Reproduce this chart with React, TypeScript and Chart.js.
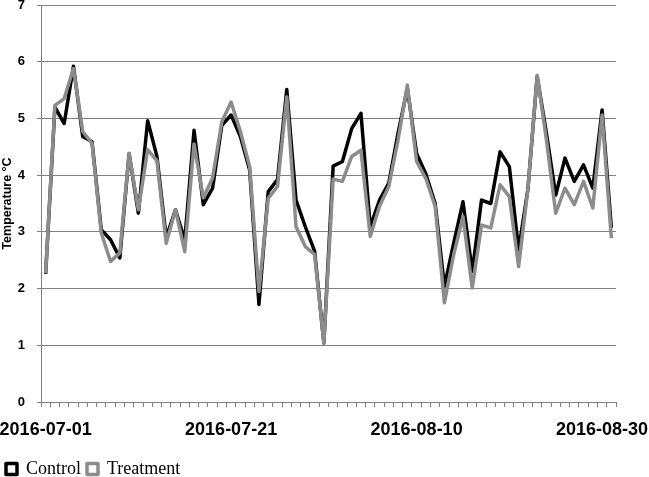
import React, { useEffect, useRef } from 'react';
import { Chart, registerables } from 'chart.js';

Chart.register(...registerables);

const dates: string[] = [
  '2016-07-01', '2016-07-02', '2016-07-03', '2016-07-04', '2016-07-05', '2016-07-06', '2016-07-07', '2016-07-08',
  '2016-07-09', '2016-07-10', '2016-07-11', '2016-07-12', '2016-07-13', '2016-07-14', '2016-07-15', '2016-07-16',
  '2016-07-17', '2016-07-18', '2016-07-19', '2016-07-20', '2016-07-21', '2016-07-22', '2016-07-23', '2016-07-24',
  '2016-07-25', '2016-07-26', '2016-07-27', '2016-07-28', '2016-07-29', '2016-07-30', '2016-07-31', '2016-08-01',
  '2016-08-02', '2016-08-03', '2016-08-04', '2016-08-05', '2016-08-06', '2016-08-07', '2016-08-08', '2016-08-09',
  '2016-08-10', '2016-08-11', '2016-08-12', '2016-08-13', '2016-08-14', '2016-08-15', '2016-08-16', '2016-08-17',
  '2016-08-18', '2016-08-19', '2016-08-20', '2016-08-21', '2016-08-22', '2016-08-23', '2016-08-24', '2016-08-25',
  '2016-08-26', '2016-08-27', '2016-08-28', '2016-08-29', '2016-08-30', '2016-08-31',
];

const shownTickLabels: string[] = ['2016-07-01', '2016-07-21', '2016-08-10', '2016-08-30'];

const control: number[] = [
  2.26, 5.2, 4.91, 5.92, 4.68, 4.59, 3.04, 2.86, 2.54, 4.38,
  3.33, 4.96, 4.33, 2.9, 3.39, 2.85, 4.79, 3.48, 3.77, 4.88,
  5.06, 4.68, 4.09, 1.72, 3.71, 3.92, 5.51, 3.56, 3.09, 2.66,
  1.04, 4.16, 4.24, 4.82, 5.09, 3.09, 3.56, 3.86, 4.74, 5.53,
  4.38, 4.02, 3.5, 2.04, 2.8, 3.53, 2.3, 3.56, 3.5, 4.41,
  4.15, 2.68, 3.75, 5.74, 4.74, 3.65, 4.3, 3.89, 4.18, 3.77,
  5.15, 3.07,
];

const treatment: number[] = [
  2.27, 5.23, 5.35, 5.88, 4.77, 4.56, 2.98, 2.48, 2.63, 4.38,
  3.39, 4.45, 4.25, 2.8, 3.39, 2.65, 4.55, 3.6, 3.95, 4.94,
  5.29, 4.77, 4.15, 1.95, 3.59, 3.8, 5.38, 3.09, 2.74, 2.6,
  1.04, 3.93, 3.89, 4.33, 4.44, 2.92, 3.45, 3.8, 4.62, 5.59,
  4.24, 3.94, 3.45, 1.75, 2.6, 3.27, 2.01, 3.12, 3.07, 3.83,
  3.62, 2.39, 3.75, 5.76, 4.62, 3.33, 3.77, 3.48, 3.89, 3.42,
  5.06, 2.89,
];

const yTicks: number[] = [0, 1, 2, 3, 4, 5, 6, 7];

export default function App() {
  const canvasRef = useRef<HTMLCanvasElement | null>(null);

  useEffect(() => {
    const canvas = canvasRef.current;
    if (!canvas) return;
    const chart = new Chart(canvas, {
      type: 'line',
      data: {
        labels: dates,
        datasets: [
          {
            label: 'Control',
            data: control,
            borderColor: '#000000',
            backgroundColor: '#ffffff',
            borderWidth: 3.5,
            pointRadius: 0,
            tension: 0,
            borderJoinStyle: 'round',
            order: 1,
          },
          {
            label: 'Treatment',
            data: treatment,
            borderColor: '#8c8c8c',
            backgroundColor: '#ffffff',
            borderWidth: 3.5,
            pointRadius: 0,
            tension: 0,
            borderJoinStyle: 'round',
            order: 0,
          },
        ],
      },
      options: {
        responsive: false,
        animation: false,
        layout: { padding: { left: 0, right: 33, top: 5, bottom: -11 } },
        plugins: {
          tooltip: { enabled: false },
          legend: {
            position: 'bottom',
            align: 'start',
            labels: {
              sort: (a: any, b: any) => a.datasetIndex - b.datasetIndex,
              boxWidth: 11,
              boxHeight: 11,
              padding: 6,
              color: '#000',
              font: { family: '"Liberation Serif", "Times New Roman", serif', size: 18 },
            },
          },
        },
        scales: {
          x: {
            type: 'category',
            offset: true,
            afterFit: (scale: any) => {
              scale.paddingLeft = 0;
              scale.paddingRight = 0;
              scale.height = 52;
            },
            grid: {
              offset: true,
              drawOnChartArea: false,
              drawTicks: true,
              tickLength: 5,
              color: '#808080',
            },
            border: { color: '#808080', width: 1 },
            ticks: {
              autoSkip: false,
              maxRotation: 0,
              minRotation: 0,
              padding: 12,
              color: '#000',
              font: { family: '"Liberation Sans", Arial, sans-serif', size: 18, weight: 'bold' },
              callback: (_v: any, index: number) => (shownTickLabels.includes(dates[index]) ? dates[index] : ''),
            },
          },
          y: {
            min: 0,
            max: 7,
            afterBuildTicks: (scale: any) => {
              scale.ticks = yTicks.map((v) => ({ value: v }));
            },
            afterFit: (scale: any) => {
              scale.width = 41;
              scale.paddingTop = 0;
              scale.paddingBottom = 0;
            },
            grid: { color: '#808080', tickLength: 4, lineWidth: 1 },
            border: { color: '#808080', width: 1 },
            ticks: {
              padding: 12,
              color: '#000',
              font: { family: '"Liberation Sans", Arial, sans-serif', size: 13, weight: 'bold' },
            },
            title: {
              display: true,
              text: 'Temperature °C',
              color: '#000',
              padding: { top: 0, bottom: 0 },
              font: { family: '"Liberation Sans", Arial, sans-serif', size: 12.5, weight: 'bold' },
            },
          },
        },
      },
    });
    return () => chart.destroy();
  }, []);

  return (
    <div style={{ position: 'absolute', left: 0, top: 0, width: 649, height: 477, background: '#fff' }}>
      <canvas ref={canvasRef} width={649} height={477} style={{ width: 649, height: 477 }} />
    </div>
  );
}
